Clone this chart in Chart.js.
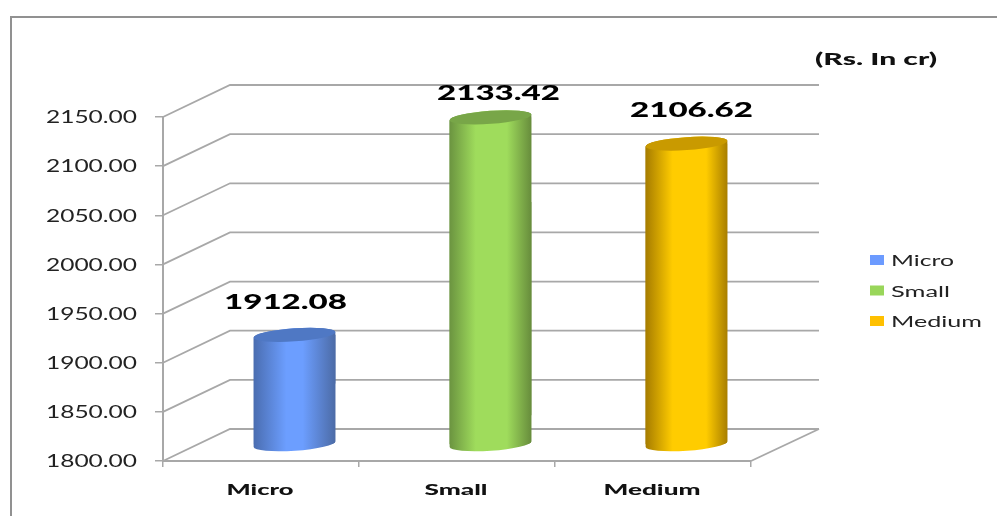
<!DOCTYPE html>
<html>
<head>
<meta charset="utf-8">
<title>Rs. In cr</title>
<script src="https://cdn.jsdelivr.net/npm/chart.js@4"></script>
<style>
    html, body { margin: 0; padding: 0; background: #ffffff; }
    canvas { display: block; }
</style>
</head>
<body>
<canvas id="chart" width="997" height="516"></canvas>
<script>
const categories = ["Micro", "Small", "Medium"];
const values = [1912.08, 2133.42, 2106.62];
const axisMin = 1800;
const axisMax = 2150;
const axisStep = 50;
const unitLabel = "(Rs. In cr)";

// shading per bar: edge, middle, edge, then the top cap and legend swatch
const edgeLeft = ["#4a6db0", "#6b9440", "#a67c00"];
const middle = ["#6c9eff", "#9fdc5c", "#ffcc00"];
const edgeRight = ["#4c6ba6", "#678c3c", "#a87e00"];
const middleFrom = [0.4, 0.32, 0.33];
const middleTo = [0.6, 0.7, 0.74];
const capColors = ["#4f78c4", "#78a648", "#c99a00"];
const swatchColors = ["#6c9bff", "#99d65a", "#ffc000"];

// 3D look
const depthX = 67;
const depthY = -32;
const barDX = depthX / 2;
const barDY = depthY / 2;
const capRy = 6.5;
const capTilt = -4 * Math.PI / 180;
const gridColor = "#a8a8a8";
const textColor = "#222222";

// data label placement relative to the cap centre
const labelShiftX = [-9, 8, 5];
const labelShiftY = [-32, -24, -33];

function wideText(ctx, text, x, y, font, width, align, color) {
    ctx.save();
    ctx.font = font;
    ctx.fillStyle = color || textColor;
    ctx.textBaseline = "middle";
    ctx.textAlign = "left";
    const natural = ctx.measureText(text).width;
    const sx = width / natural;
    let left = x;
    if (align === "center") left = x - width / 2;
    if (align === "right") left = x - width;
    ctx.translate(left, y);
    ctx.scale(sx, 1);
    ctx.fillText(text, 0, 0);
    ctx.restore();
}

function barGradient(context) {
    const chart = context.chart;
    const i = context.dataIndex;
    if (!chart.chartArea || i === undefined) return middle[i] || middle[0];
    const cx = chart.scales.x.getPixelForValue(i);
    const half = chart.scales.x.width / categories.length * 0.418 / 2;
    const g = chart.ctx.createLinearGradient(cx - half, 0, cx + half, 0);
    g.addColorStop(0, edgeLeft[i]);
    g.addColorStop(middleFrom[i], middle[i]);
    g.addColorStop(middleTo[i], middle[i]);
    g.addColorStop(1, edgeRight[i]);
    return g;
}

function cylinderPath(ctx, bar) {
    const rx = bar.width / 2;
    ctx.ellipse(bar.x, bar.y, rx, capRy, capTilt, Math.PI, 2 * Math.PI);
    ctx.ellipse(bar.x, bar.base, rx, capRy, capTilt, 0, Math.PI);
    ctx.closePath();
}

const cylinder3d = {
    id: "cylinder3d",
    beforeDraw(chart) {
        const ctx = chart.ctx;
        // outer frame, left and top only
        ctx.save();
        ctx.strokeStyle = "#919191";
        ctx.lineWidth = 2;
        ctx.beginPath();
        ctx.moveTo(11, 516);
        ctx.lineTo(11, 17);
        ctx.lineTo(997, 17);
        ctx.stroke();
        ctx.restore();
    },
    beforeDatasetsDraw(chart) {
        const ctx = chart.ctx;
        const area = chart.chartArea;
        const y = chart.scales.y;
        ctx.save();
        ctx.strokeStyle = gridColor;
        ctx.lineWidth = 1.8;
        y.ticks.forEach(function (t) {
            const py = y.getPixelForValue(t.value);
            ctx.beginPath();
            ctx.moveTo(area.left, py);
            ctx.lineTo(area.left + depthX, py + depthY);
            ctx.lineTo(area.right + depthX + 1, py + depthY);
            ctx.stroke();
        });
        // floor edge on the right
        ctx.beginPath();
        ctx.moveTo(area.right, area.bottom);
        ctx.lineTo(area.right + depthX + 1, area.bottom + depthY);
        ctx.stroke();
        ctx.restore();
    },
    beforeDatasetDraw(chart, args) {
        const ctx = chart.ctx;
        ctx.save();
        ctx.translate(barDX, barDY);
        args.meta.data.forEach(function (bar) {
            ctx.save();
            ctx.fillStyle = bar.options.backgroundColor;
            ctx.beginPath();
            cylinderPath(ctx, bar);
            ctx.fill();
            ctx.restore();
        });
        // keep the square corners of the bars inside the cylinder outline
        ctx.beginPath();
        args.meta.data.forEach(function (bar) {
            cylinderPath(ctx, bar);
        });
        ctx.clip();
    },
    afterDatasetDraw(chart, args) {
        const ctx = chart.ctx;
        ctx.restore();
        args.meta.data.forEach(function (bar, i) {
            const cx = bar.x + barDX;
            const cy = bar.y + barDY;
            ctx.save();
            ctx.fillStyle = capColors[i];
            ctx.beginPath();
            ctx.ellipse(cx, cy, bar.width / 2, capRy, capTilt, 0, 2 * Math.PI);
            ctx.fill();
            ctx.restore();
            wideText(ctx, values[i].toFixed(2), cx + labelShiftX[i], cy + labelShiftY[i],
                "900 20px Lato", 123, "center", "#000000");
        });
    },
    afterDraw(chart) {
        const ctx = chart.ctx;
        const x = chart.scales.x;
        const y = chart.scales.y;
        y.ticks.forEach(function (t) {
            wideText(ctx, t.value.toFixed(2), 137, y.getPixelForValue(t.value) + 1, "16.5px Lato", 91, "right");
        });
        const widths = [67, 63, 97];
        categories.forEach(function (c, i) {
            wideText(ctx, c, x.getPixelForValue(i) - 1, 490, "900 15px Lato", widths[i], "center", "#111111");
        });
        wideText(ctx, unitLabel, 815, 60, "900 16.5px Lato", 122, "left", "#111111");

        // legend
        const legendW = [63, 59, 91];
        categories.forEach(function (c, i) {
            const ly = 260 + i * 30.5;
            ctx.fillStyle = swatchColors[i];
            ctx.fillRect(870, ly - 5, 14, 10);
            wideText(ctx, c, 891, ly + 1, "15.5px Lato", legendW[i], "left");
        });
    }
};

new Chart(document.getElementById("chart"), {
    type: "bar",
    data: {
        labels: categories,
        datasets: [{
            data: values,
            base: axisMin,
            backgroundColor: barGradient,
            borderWidth: 0,
            barPercentage: 0.418,
            categoryPercentage: 1,
            clip: false
        }]
    },
    options: {
        responsive: false,
        animation: false,
        layout: {
            padding: { left: 155, top: 117, right: 246, bottom: 49 }
        },
        plugins: {
            legend: { display: false },
            title: { display: false },
            tooltip: { enabled: false }
        },
        scales: {
            x: {
                grid: { drawOnChartArea: false, color: gridColor, lineWidth: 1.5, tickLength: 6 },
                border: { color: gridColor, width: 2 },
                ticks: { display: false }
            },
            y: {
                min: axisMin,
                max: axisMax,
                ticks: { display: false, stepSize: axisStep },
                grid: { drawOnChartArea: false, color: gridColor, lineWidth: 1.5, tickLength: 8 },
                border: { color: gridColor, width: 2 }
            }
        }
    },
    plugins: [cylinder3d]
});
</script>
</body>
</html>
